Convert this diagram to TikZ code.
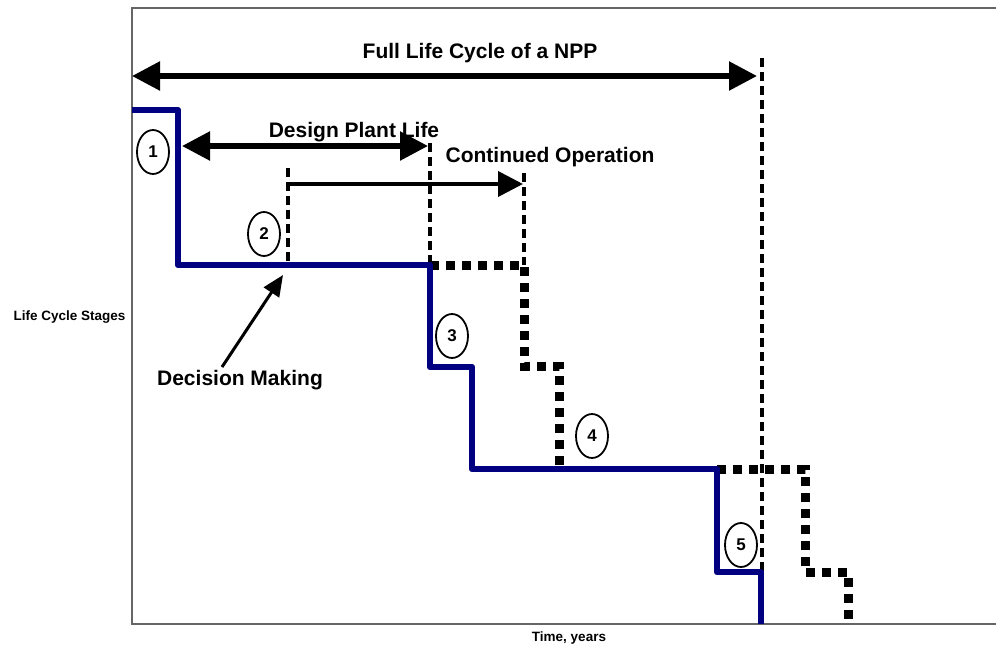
\documentclass[tikz,border=0pt]{standalone}
\usepackage{fontspec}
\setmainfont{Liberation Sans}
\usetikzlibrary{arrows.meta,shapes.geometric}
\definecolor{stagenavy}{RGB}{0,0,128}
\begin{document}
\begin{tikzpicture}[x=1pt,y=-1pt,
  axisline/.style={draw=black!60,line width=2pt},
  stageline/.style={draw=stagenavy,line width=6.5pt,line join=round},
  altline/.style={draw=black,line width=9pt,dash pattern=on 8.5pt off 7.5pt},
  markline/.style={draw=black,line width=3.4pt,dash pattern=on 9pt off 5pt},
  spanarrow/.style={draw=black,line width=5.5pt,{Triangle[length=28pt,width=28pt]}-{Triangle[length=28pt,width=28pt]}},
  extarrow/.style={draw=black,line width=3.8pt,-{Triangle[length=25pt,width=25pt]}},
  pointer/.style={draw=black,line width=3pt,-{Triangle[length=21pt,width=18pt]}},
  bigtext/.style={font=\fontsize{21}{24}\selectfont\bfseries,inner sep=0pt,anchor=base},
  smalltext/.style={font=\fontsize{13.5}{16}\selectfont\bfseries,inner sep=0pt,anchor=base},
  stagemark/.style={ellipse,draw=black,line width=1.8pt,minimum width=32pt,minimum height=44pt,
    inner sep=0pt,font=\fontsize{17}{19}\selectfont\bfseries}
]
\useasboundingbox (0,0) rectangle (996,646);

% frame of the chart
\draw[axisline] (996,8) -- (132,8) -- (132,624) -- (996,624);

% time markers
\draw[markline] (288,168) -- (288,265);
\draw[markline] (430,143) -- (430,265);
\draw[markline] (524,173) -- (524,265);
\draw[markline] (762,58) -- (762,624);

% alternative (extended) stage paths
\draw[altline] (430,265) -- (524,265) -- (524,366) -- (559,366) -- (559,469);
\draw[altline] (717,469) -- (805,469) -- (805,572) -- (848,572) -- (848,624);

% life cycle stages
\draw[stageline] (132,110) -- (178,110) -- (178,265) -- (430,265) -- (430,367)
  -- (472,367) -- (472,469) -- (717,469) -- (717,572) -- (761,572) -- (761,624);

% spans
\coordinate (fullL) at (132,76);
\coordinate (fullR) at (757,76);
\draw[spanarrow] (fullL) -- (fullR);
\node[bigtext] (fulltxt) at (480,58) {Full Life Cycle of a NPP};

\coordinate (designL) at (182,146);
\coordinate (designR) at (428,146);
\draw[spanarrow] (designL) -- (designR);
\node[bigtext] (designtxt) at (354,137) {Design Plant Life};

\coordinate (contL) at (288,184);
\coordinate (contR) at (523,184);
\draw[extarrow] (contL) -- (contR);
\node[bigtext] (conttxt) at (550,162) {Continued Operation};

% decision pointer
\node[bigtext] (decision) at (240,385) {Decision Making};
\coordinate (decFrom) at (222,367);
\coordinate (decTo) at (283,275);
\draw[pointer] (decFrom) -- (decTo);

% stage numbers
\node[stagemark] (s1) at (153,152) {1};
\node[stagemark] (s2) at (264,234) {2};
\node[stagemark] (s3) at (452,336) {3};
\node[stagemark] (s4) at (592,436) {4};
\node[stagemark] (s5) at (741,545) {5};

% axis titles
\node[smalltext] (ylab) at (69.5,320) {Life Cycle Stages};
\node[smalltext] (xlab) at (569,641) {Time, years};
\end{tikzpicture}
\end{document}
